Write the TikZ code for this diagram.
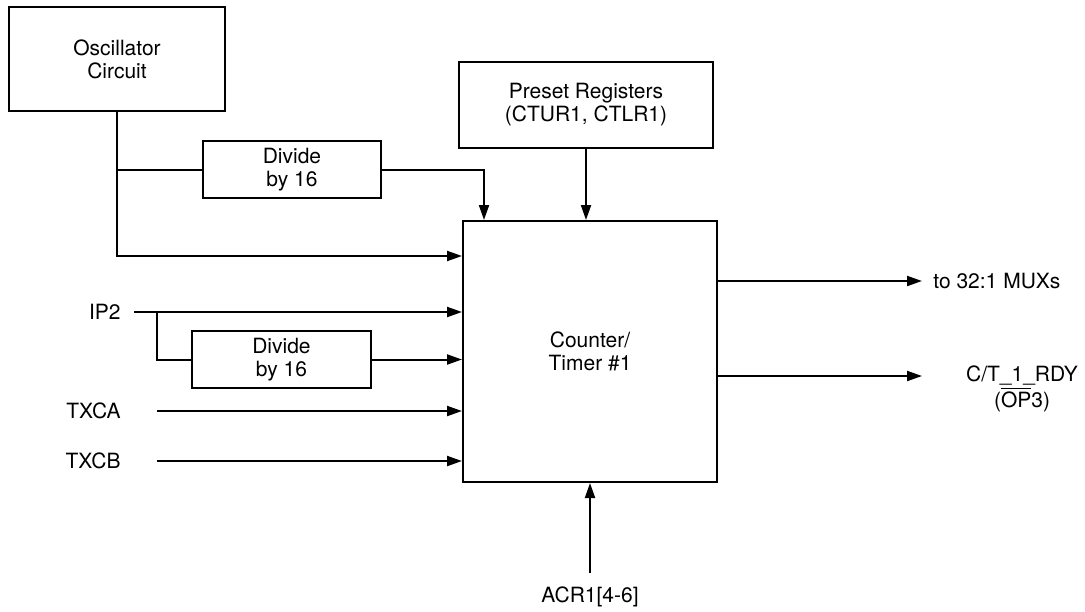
\documentclass[tikz,border=0pt]{standalone}
\usepackage{fontspec}
\setmainfont{TeX Gyre Heros}
\usetikzlibrary{arrows.meta, positioning}

\begin{document}
\begin{tikzpicture}[
        x=0.5pt, y=-0.5pt,
        font=\fontsize{10.5}{11.5}\selectfont,
        blk/.style={draw, line width=1pt, align=center, inner sep=0pt},
        lbl/.style={inner sep=0pt, align=center},
        sig/.style={line width=1pt, -{Triangle[length=7.5pt, width=5pt]}},
        wire/.style={line width=1pt},
      ]
      \useasboundingbox (0,0) rectangle (1085,611);
      % blocks
      \node[blk, minimum width=108pt, minimum height=52pt] (osc) at (117,59) {Oscillator\\ Circuit};
      \node[blk, minimum width=89pt, minimum height=28.5pt] (div1) at (292,169.5) {Divide\\ by 16};
      \node[blk, minimum width=127pt, minimum height=43pt] (preset) at (586,105) {Preset Registers\\ (CTUR1, CTLR1)};
      \node[blk, minimum width=127pt, minimum height=130.5pt] (ct) at (590,351.5) {Counter/\\ Timer \#1};
      \node[blk, minimum width=89.5pt, minimum height=28.5pt] (div2) at (281.5,359.5) {Divide\\ by 16};
      % inputs and outputs
      \node[lbl, anchor=east] (ip2) at (121,312) {IP2};
      \node[lbl, anchor=east] (txca) at (121,411) {TXCA};
      \node[lbl, anchor=east] (txcb) at (121,461) {TXCB};
      \node[lbl, anchor=west] (mux) at (933,281) {to 32:1 MUXs};
      \node[lbl] (rdy) at (1022,389) {C/T\_1\_RDY\\ ($\overline{\mbox{OP}}$3)};
      \node[lbl] (acr) at (590,597) {ACR1[4-6]};
      \coordinate (ip2in) at (134,312);
      \coordinate (txcain) at (157,411);
      \coordinate (txcbin) at (157,461);
      \coordinate (muxout) at (922,281);
      \coordinate (rdyout) at (922,376);
      \coordinate (acrin) at (590,573);
      % connectors
      \draw[sig] (osc.south) |- (ct.west |- 0,256);
      \draw[wire] (osc.south |- div1.west) -- (div1.west);
      \draw[sig] (div1.east) -| (484,0 |- ct.north);
      \draw[sig] (preset.south) -- (preset.south |- ct.north);
      \draw[sig] (ip2in) -- (ip2in -| ct.west);
      \draw[wire] (157,312) |- (div2.west);
      \draw[sig] (div2.east) -- (div2.east -| ct.west);
      \draw[sig] (txcain) -- (txcain -| ct.west);
      \draw[sig] (txcbin) -- (txcbin -| ct.west);
      \draw[sig] (ct.east |- muxout) -- (muxout);
      \draw[sig] (ct.east |- rdyout) -- (rdyout);
      \draw[sig] (acrin) -- (ct.south);
    \end{tikzpicture}
\end{document}
